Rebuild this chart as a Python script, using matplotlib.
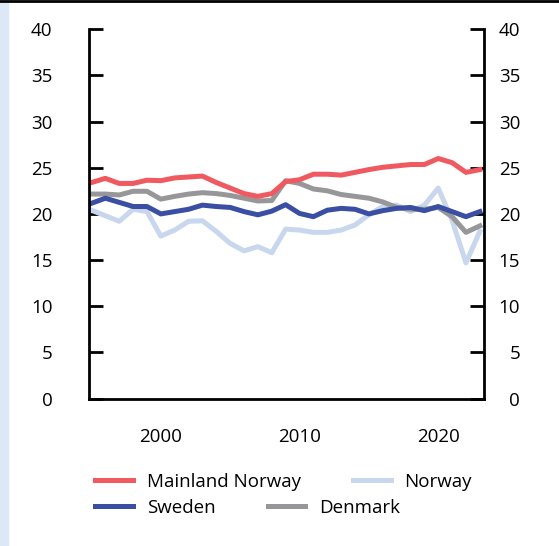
import numpy as np
import matplotlib.pyplot as plt
from matplotlib.lines import Line2D

plt.rcParams['font.family'] = ['Open Sans', 'DejaVu Sans']

years = list(range(1995, 2024))

mainland_norway = [23.4, 23.85, 23.3, 23.3, 23.65, 23.6, 23.9, 24.0, 24.1, 23.4,
                   22.8, 22.2, 21.9, 22.2, 23.5, 23.7, 24.3, 24.3, 24.2, 24.5,
                   24.8, 25.05, 25.2, 25.35, 25.35, 26.0, 25.55, 24.5, 24.8]
norway = [20.4, 19.8, 19.2, 20.5, 20.25, 17.6, 18.25, 19.2, 19.25, 18.1,
          16.8, 16.0, 16.45, 15.8, 18.35, 18.25, 18.0, 18.0, 18.25, 18.8,
          19.9, 20.8, 20.95, 20.25, 20.95, 22.8, 19.3, 14.7, 18.1]
sweden = [21.15, 21.7, 21.25, 20.8, 20.8, 20.0, 20.25, 20.5, 20.95, 20.8,
          20.7, 20.25, 19.9, 20.3, 21.0, 20.05, 19.7, 20.4, 20.6, 20.5,
          20.0, 20.35, 20.6, 20.7, 20.35, 20.8, 20.25, 19.7, 20.25]
denmark = [22.15, 22.15, 22.05, 22.45, 22.45, 21.6, 21.9, 22.15, 22.3, 22.2,
           22.0, 21.7, 21.4, 21.45, 23.6, 23.3, 22.7, 22.5, 22.1, 21.9,
           21.7, 21.3, 20.7, 20.5, 20.5, 20.7, 19.7, 18.0, 18.7]

red = '#F0595F'
dark_blue = '#3A4FA3'
light_blue = '#C8D6EE'
grey = '#979799'

fig = plt.figure(figsize=(5.59, 5.46), dpi=100)
# light strip on the left and black rule on top
fig.patches.append(plt.Rectangle((0, 0), 8.3 / 559, 1, transform=fig.transFigure,
                                 color='#DCE8F5', zorder=0))
fig.add_artist(Line2D([0, 1], [1 - 1.3 / 546] * 2, transform=fig.transFigure,
                      color='black', lw=2.0))

ax = fig.add_axes([88.7 / 559, 147.5 / 546, 395.3 / 559, 369.2 / 546])
lw = 3.6
ax.plot(years, norway, color=light_blue, lw=lw, label='Norway')
ax.plot(years, denmark, color=grey, lw=lw, label='Denmark')
ax.plot(years, sweden, color=dark_blue, lw=lw, label='Sweden')
ax.plot(years, mainland_norway, color=red, lw=lw, label='Mainland Norway')

ax.set_xlim(1994.8, 2023.3)
ax.set_ylim(0, 40)
ax.set_yticks(range(0, 41, 5))
ax.set_xticks([2000, 2010, 2020])
ax.spines['top'].set_visible(False)
for s in ['left', 'right', 'bottom']:
    ax.spines[s].set_linewidth(2)
ax.tick_params(axis='y', direction='in', length=10, width=2, pad=26,
               labelsize=13.5, left=True, right=True, labelleft=True, labelright=True)
for lab in ax.get_yticklabels():
    lab.set_horizontalalignment('right')
ax.tick_params(axis='x', length=0, pad=21, labelsize=13.5)

h = {l.get_label(): l for l in ax.get_lines()}
kw = dict(frameon=False, fontsize=13.5, handlelength=2.0, handletextpad=0.75,
          columnspacing=2.8, loc='upper left', borderaxespad=0, borderpad=0)
leg1 = fig.legend([h['Mainland Norway'], h['Norway']], ['Mainland Norway', 'Norway'],
                  ncol=2, bbox_to_anchor=(95 / 559, 1 - 473 / 546), **kw)
leg2 = fig.legend([h['Sweden'], h['Denmark']], ['Sweden', 'Denmark'],
                  ncol=2, bbox_to_anchor=(95 / 559, 1 - 499 / 546), **kw)

fig.savefig('out.png', dpi=100)
